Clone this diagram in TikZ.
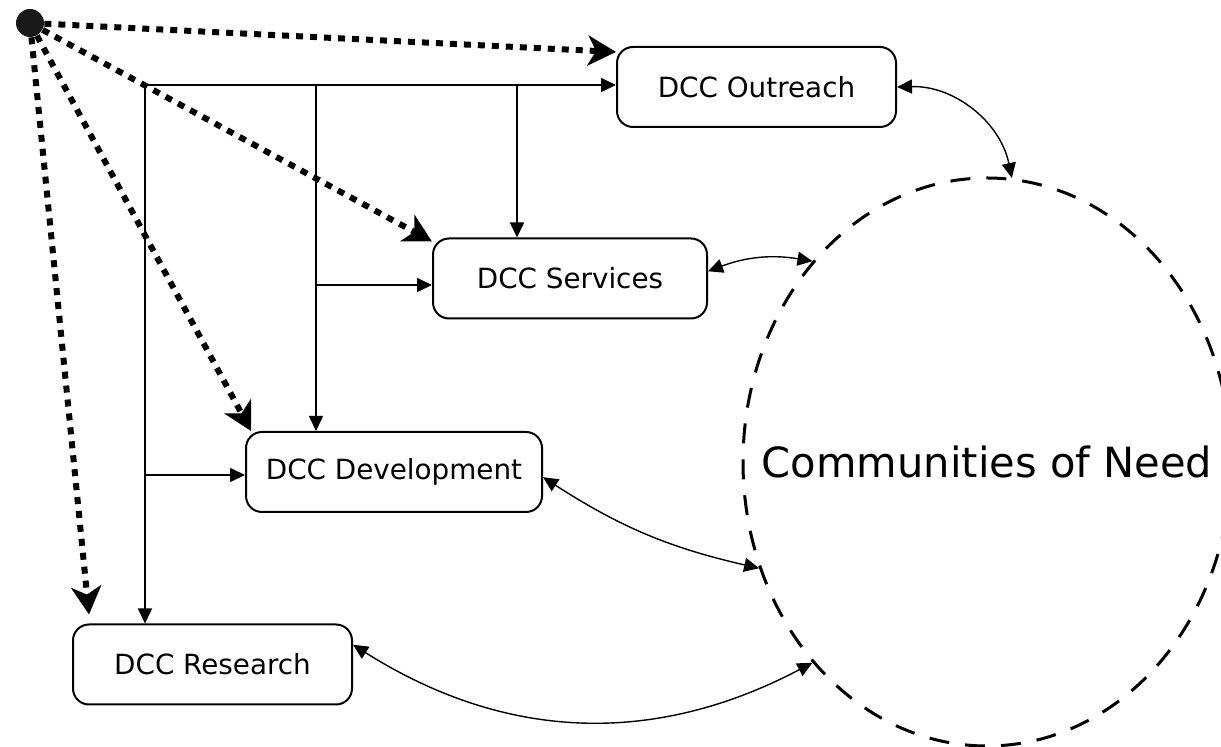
\documentclass[tikz,border=0pt]{standalone}
\usepackage{fontspec}
\setmainfont{DejaVu Sans}
\usetikzlibrary{arrows.meta, shapes.geometric, calc}
\tikzset{
    unit/.style = {draw, line width=1pt, rounded corners=8pt, minimum height=40pt, inner sep=0pt, font=\fontsize{13.9}{16}\selectfont},
    feed/.style = {line width=0.8pt, -{Triangle[length=7.5pt, width=7pt]}},
    link/.style = {line width=0.7pt, {Triangle[length=7.5pt, width=7pt]}-{Triangle[length=7.5pt, width=7pt]}},
    pointer/.style = {line width=3pt, line cap=butt, dash pattern=on 3.5pt off 3.5pt, -{Stealth[length=14pt, width=15pt, inset=4pt]}}
}

\begin{document}
\begin{tikzpicture}[line join=round, x=0.5pt, y=-0.5pt]
\useasboundingbox (0,0) rectangle (1221,747);
\node[circle, fill=black!90, minimum size=14pt, inner sep=0pt] (hub) at (30,23) {};
\node[unit, minimum width=139.5pt] (out) at (756.5,87) {DCC Outreach};
\node[unit, minimum width=137pt] (serv) at (570,278.5) {DCC Services};
\node[unit, minimum width=148pt] (dev) at (394,472) {DCC Development};
\node[unit, minimum width=139.5pt] (res) at (212.5,664.5) {DCC Research};
\node[draw, ellipse, line width=1.5pt, dash pattern=on 10pt off 8pt, minimum width=244pt, minimum height=284pt, inner sep=0pt,
      label={[font=\fontsize{20.8}{24}\selectfont]center:Communities of Need}] (need) at (987,462) {};
\coordinate (b1) at (145,85);
\coordinate (b2) at (316,85);
\coordinate (b3) at (517,85);
\coordinate (b4) at (316,285);
\coordinate (b5) at (145,475);
\draw[feed] (b1) -- (b1 -| out.west);
\draw[feed] (b1) -- (b1 |- res.north);
\draw[feed] (b2) -- (b2 |- dev.north);
\draw[feed] (b3) -- (b3 |- serv.north);
\draw[feed] (b4) -- (b4 -| serv.west);
\draw[feed] (b5) -- (b5 -| dev.west);
\draw[pointer] (hub) -- (out.166);
\draw[pointer] (hub) -- (serv.165);
\draw[pointer] (hub) -- (dev.164);
\draw[pointer] (hub) -- ($(res.north west)+(17,-9)$);
\draw[link] (out.east) to[bend left=40] (need.85);
\draw[link] (serv.3) to[bend left=15] (need.131);
\draw[link] (dev.-2) to[bend right=10] (need.205);
\draw[link] (res.8) to[bend right=30] (need.229);
\end{tikzpicture}
\end{document}
